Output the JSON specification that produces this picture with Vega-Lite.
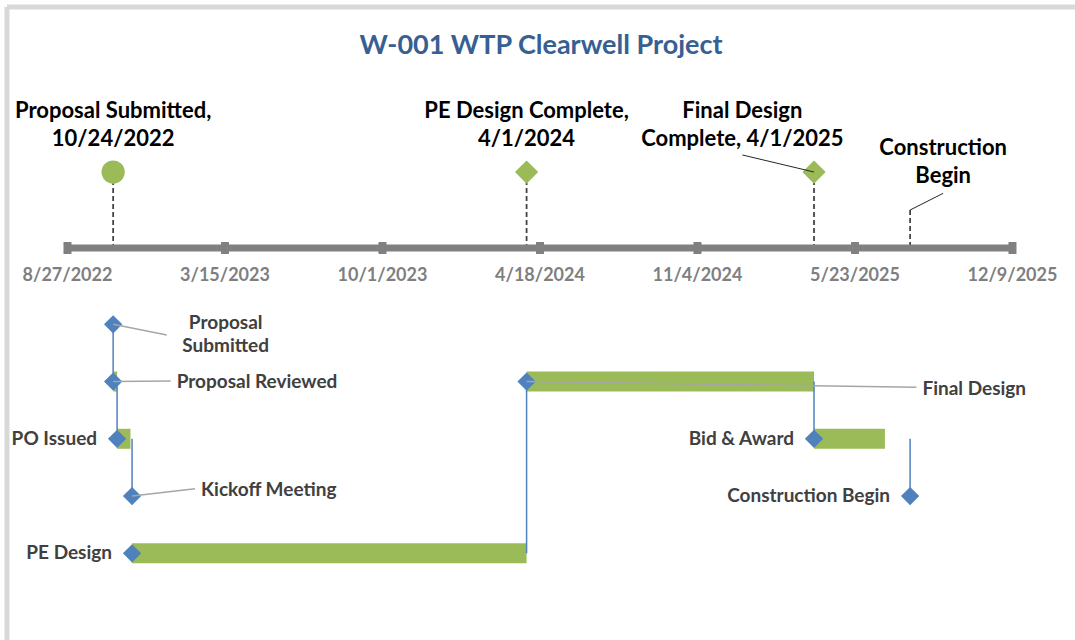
{
  "$schema": "https://vega.github.io/schema/vega-lite/v6.json",
  "width": 1068,
  "height": 633,
  "autosize": "none",
  "padding": {"left": 7, "top": 7, "right": 0, "bottom": 0},
  "background": "white",
  "config": {
    "view": {"stroke": null},
    "font": "Lato",
    "axis": {"disable": true}
  },
  "title": {
    "text": "W-001 WTP Clearwell Project",
    "font": "Lato",
    "fontSize": 27,
    "fontWeight": "bold",
    "color": "#376092",
    "anchor": "middle",
    "baseline": "alphabetic",
    "offset": -76
  },
  "datasets": {
    "ticks": [
      {"date": "2022-08-27"},
      {"date": "2023-03-15"},
      {"date": "2023-10-01"},
      {"date": "2024-04-18"},
      {"date": "2024-11-04"},
      {"date": "2025-05-23"},
      {"date": "2025-12-09"}
    ],
    "milestones": [
      {"name": "Proposal Submitted", "date": "2022-10-24", "type": "submitted", "stemTop": -1.66, "label": "Proposal Submitted,\n10/24/2022", "labelDate": "2022-10-24", "labelLevel": -2.727, "leaderDate": null, "leaderLevel": null},
      {"name": "PE Design Complete", "date": "2024-04-01", "type": "complete", "stemTop": -1.66, "label": "PE Design Complete,\n4/1/2024", "labelDate": "2024-04-01", "labelLevel": -2.727, "leaderDate": null, "leaderLevel": null},
      {"name": "Final Design Complete", "date": "2025-04-01", "type": "complete", "stemTop": -1.66, "label": "Final Design\nComplete, 4/1/2025", "labelDate": "2024-12-31", "labelLevel": -2.727, "leaderDate": "2024-12-31", "leaderLevel": -1.958},
      {"name": "Construction Begin", "date": "2025-08-01", "type": "begin", "stemTop": -0.996, "label": "Construction\nBegin", "labelDate": "2025-09-12", "labelLevel": -2.079, "leaderDate": "2025-09-12", "leaderLevel": -1.288}
    ],
    "tasks": [
      {"task": "Proposal Submitted", "label": "Proposal\nSubmitted", "row": 1, "start": "2022-10-24", "end": "2022-10-24", "pred": null, "leaderDate": "2022-12-31", "leaderLevel": 1.187},
      {"task": "Proposal Reviewed", "label": "Proposal Reviewed", "row": 2, "start": "2022-10-24", "end": "2022-10-29", "pred": 1, "leaderDate": "2023-01-05", "leaderLevel": 1.99},
      {"task": "PO Issued", "label": "PO Issued", "row": 3, "start": "2022-10-29", "end": "2022-11-15", "pred": 2, "leaderDate": null, "leaderLevel": null},
      {"task": "Kickoff Meeting", "label": "Kickoff Meeting", "row": 4, "start": "2022-11-17", "end": "2022-11-17", "pred": 3, "leaderDate": "2023-02-05", "leaderLevel": 3.872},
      {"task": "PE Design", "label": "PE Design", "row": 5, "start": "2022-11-17", "end": "2024-04-01", "pred": null, "leaderDate": null, "leaderLevel": null},
      {"task": "Final Design", "label": "Final Design", "row": 2, "start": "2024-04-01", "end": "2025-04-01", "pred": 5, "leaderDate": "2025-08-09", "leaderLevel": 2.1},
      {"task": "Bid & Award", "label": "Bid & Award", "row": 3, "start": "2025-04-01", "end": "2025-06-30", "pred": 2, "leaderDate": null, "leaderLevel": null},
      {"task": "Construction Begin", "label": "Construction Begin", "row": 4, "start": "2025-08-01", "end": "2025-08-01", "pred": 3, "leaderDate": null, "leaderLevel": null}
    ]
  },
  "layer": [
    {
      "data": {"values": [{}]},
      "mark": {"type": "rule", "color": "#D9D9D9", "strokeWidth": 5},
      "encoding": {
        "x": {"datum": {"year": 2022, "month": 6, "date": 11, "hours": 5, "utc": true}, "type": "temporal", "axis": null, "scale": {"type": "utc", "padding": 0, "domain": [{"year": 2022, "month": 6, "date": 11, "hours": 5, "utc": true}, {"year": 2026, "month": 2, "date": 26, "hours": 9, "minutes": 36, "utc": true}]}},
        "y": {"datum": -4.5424, "type": "quantitative", "axis": null, "scale": {"domain": [-4.5424, 6.5144], "reverse": true, "zero": false, "nice": false, "padding": 0}},
        "y2": {"datum": 6.5144}
      }
    },
    {
      "data": {"values": [{}]},
      "mark": {"type": "rule", "color": "#D9D9D9", "strokeWidth": 5},
      "encoding": {
        "x": {"datum": {"year": 2022, "month": 6, "date": 11, "hours": 5, "utc": true}, "type": "temporal", "axis": null},
        "x2": {"datum": {"year": 2026, "month": 2, "date": 26, "hours": 9, "minutes": 36, "utc": true}},
        "y": {"datum": -4.5424, "type": "quantitative", "axis": null}
      }
    },
    {
      "data": {"name": "milestones"},
      "mark": {"type": "rule", "color": "#404040", "strokeWidth": 1.75, "strokeDash": [5, 3]},
      "encoding": {
        "x": {"field": "date", "type": "temporal", "axis": null},
        "y": {"field": "stemTop", "type": "quantitative", "axis": null},
        "y2": {"datum": -0.333}
      }
    },
    {
      "data": {"name": "ticks"},
      "mark": {"type": "rule", "color": "#808080", "strokeWidth": 7},
      "encoding": {
        "x": {"field": "date", "type": "temporal", "aggregate": "min", "axis": null},
        "x2": {"field": "date", "aggregate": "max"},
        "y": {"datum": -0.333, "type": "quantitative", "axis": null}
      }
    },
    {
      "data": {"name": "ticks"},
      "mark": {"type": "tick", "orient": "vertical", "color": "#808080", "thickness": 8, "size": 12, "opacity": 1},
      "encoding": {
        "x": {"field": "date", "type": "temporal", "axis": null},
        "y": {"datum": -0.333, "type": "quantitative", "axis": null}
      }
    },
    {
      "data": {"name": "ticks"},
      "mark": {"type": "text", "color": "#7F7F7F", "fontSize": 18, "fontWeight": "bold", "font": "Lato", "align": "center", "baseline": "middle"},
      "encoding": {
        "x": {"field": "date", "type": "temporal", "axis": null},
        "y": {"datum": 0.15, "type": "quantitative", "axis": null},
        "text": {"field": "date", "type": "temporal", "timeUnit": "utcyearmonthdate", "format": "%-m/%-d/%Y"}
      }
    },
    {
      "data": {"name": "milestones"},
      "transform": [{"filter": "datum.type !== 'begin'"}],
      "mark": {"type": "point", "filled": true, "opacity": 1, "size": 540, "color": "#9BBB59"},
      "encoding": {
        "x": {"field": "date", "type": "temporal", "axis": null},
        "y": {"field": "stemTop", "type": "quantitative", "axis": null},
        "shape": {"field": "type", "type": "nominal", "scale": {"domain": ["submitted", "complete"], "range": ["circle", "diamond"]}, "legend": null}
      }
    },
    {
      "data": {"name": "milestones"},
      "transform": [{"filter": "datum.leaderDate != null"}],
      "mark": {"type": "rule", "color": "#262626", "strokeWidth": 1},
      "encoding": {
        "x": {"field": "leaderDate", "type": "temporal", "axis": null},
        "y": {"field": "leaderLevel", "type": "quantitative", "axis": null},
        "x2": {"field": "date"},
        "y2": {"field": "stemTop"}
      }
    },
    {
      "data": {"name": "milestones"},
      "mark": {"type": "text", "color": "#000000", "fontSize": 22, "fontWeight": "bold", "font": "Lato", "align": "center", "baseline": "middle", "lineBreak": "\n", "lineHeight": 28},
      "encoding": {
        "x": {"field": "labelDate", "type": "temporal", "axis": null},
        "y": {"field": "labelLevel", "type": "quantitative", "axis": null},
        "text": {"field": "label", "type": "nominal"}
      }
    },
    {
      "data": {"name": "tasks"},
      "mark": {"type": "bar", "orient": "horizontal", "color": "#9BBB59", "size": 20},
      "encoding": {
        "x": {"field": "start", "type": "temporal", "axis": null},
        "x2": {"field": "end"},
        "y": {"field": "row", "type": "quantitative", "axis": null}
      }
    },
    {
      "data": {"name": "tasks"},
      "transform": [{"filter": "datum.pred != null"}],
      "mark": {"type": "rule", "color": "#4F81BD", "strokeWidth": 1.5},
      "encoding": {
        "x": {"field": "start", "type": "temporal", "axis": null},
        "y": {"field": "pred", "type": "quantitative", "axis": null},
        "y2": {"field": "row"}
      }
    },
    {
      "data": {"name": "tasks"},
      "mark": {"type": "point", "shape": "diamond", "filled": true, "opacity": 1, "size": 335, "color": "#4F81BD"},
      "encoding": {
        "x": {"field": "start", "type": "temporal", "axis": null},
        "y": {"field": "row", "type": "quantitative", "axis": null}
      }
    },
    {
      "data": {"name": "tasks"},
      "transform": [{"filter": "datum.leaderDate != null"}],
      "mark": {"type": "rule", "color": "#A6A6A6", "strokeWidth": 1.5},
      "encoding": {
        "x": {"field": "start", "type": "temporal", "axis": null},
        "y": {"field": "row", "type": "quantitative", "axis": null},
        "x2": {"field": "leaderDate"},
        "y2": {"field": "leaderLevel"}
      }
    },
    {
      "data": {"name": "tasks"},
      "transform": [{"filter": "datum.leaderDate != null && datum.task !== 'Proposal Submitted'"}],
      "mark": {"type": "text", "color": "#404040", "fontSize": 19, "fontWeight": "bold", "font": "Lato", "align": "left", "baseline": "middle", "dx": 6, "dy": 1.5},
      "encoding": {
        "x": {"field": "leaderDate", "type": "temporal", "axis": null},
        "y": {"field": "leaderLevel", "type": "quantitative", "axis": null},
        "text": {"field": "label", "type": "nominal"}
      }
    },
    {
      "data": {"name": "tasks"},
      "transform": [{"filter": "datum.task === 'Proposal Submitted'"}],
      "mark": {"type": "text", "color": "#404040", "fontSize": 19, "fontWeight": "bold", "font": "Lato", "align": "center", "baseline": "middle", "lineBreak": "\n", "lineHeight": 23.4, "dx": 59, "dy": -12},
      "encoding": {
        "x": {"field": "leaderDate", "type": "temporal", "axis": null},
        "y": {"field": "leaderLevel", "type": "quantitative", "axis": null},
        "text": {"field": "label", "type": "nominal"}
      }
    },
    {
      "data": {"name": "tasks"},
      "transform": [{"filter": "datum.leaderDate == null"}],
      "mark": {"type": "text", "color": "#404040", "fontSize": 19, "fontWeight": "bold", "font": "Lato", "align": "right", "baseline": "middle", "dx": -20},
      "encoding": {
        "x": {"field": "start", "type": "temporal", "axis": null},
        "y": {"field": "row", "type": "quantitative", "axis": null},
        "text": {"field": "label", "type": "nominal"}
      }
    }
  ]
}
